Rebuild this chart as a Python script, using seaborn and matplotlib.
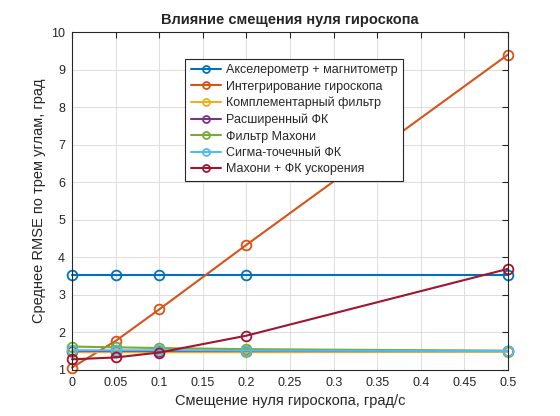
import pandas as pd
import matplotlib.pyplot as plt
import seaborn as sns

bias = [0, 0.05, 0.1, 0.2, 0.5]

names = [
    'Акселерометр + магнитометр',
    'Интегрирование гироскопа',
    'Комплементарный фильтр',
    'Расширенный ФК',
    'Фильтр Махони',
    'Сигма-точечный ФК',
    'Махони + ФК ускорения',
]

accel_mag = [3.53, 3.53, 3.53, 3.53, 3.53]
gyro_int = [1.06, 1.77, 2.61, 4.33, 9.40]
complementary = [1.47, 1.47, 1.47, 1.47, 1.48]
ekf = [1.50, 1.50, 1.50, 1.50, 1.50]
mahony = [1.62, 1.60, 1.58, 1.55, 1.51]
ukf = [1.52, 1.52, 1.52, 1.51, 1.50]
mahony_kf = [1.28, 1.33, 1.46, 1.91, 3.69]

series = [accel_mag, gyro_int, complementary, ekf, mahony, ukf, mahony_kf]

colors = ['#0072BD', '#D95319', '#EDB120', '#7E2F8E', '#77AC30', '#4DBEEE', '#A2142F']

sns.set_style('white')
plt.rcParams['font.family'] = ['Liberation Sans', 'DejaVu Sans']

fig = plt.figure(figsize=(5.6, 4.16), dpi=100)
ax = fig.add_axes([0.1286, 0.111, 0.7786, 0.812])

for name, vals, c in zip(names, series, colors):
    df = pd.DataFrame({'x': bias, 'y': vals})
    sns.lineplot(data=df, x='x', y='y', ax=ax, color=c, linewidth=1.5,
                 marker='o', markersize=7, markerfacecolor='none',
                 markeredgecolor=c, markeredgewidth=1.3, label=name,
                 clip_on=False)

ax.set_xlim(0, 0.5)
ax.set_ylim(1, 10)
ax.set_xticks([0, 0.05, 0.1, 0.15, 0.2, 0.25, 0.3, 0.35, 0.4, 0.45, 0.5])
ax.set_xticklabels(['0', '0.05', '0.1', '0.15', '0.2', '0.25', '0.3', '0.35', '0.4', '0.45', '0.5'])
ax.set_yticks(range(1, 11))
ax.grid(True, color='#dddddd', linewidth=0.7)
ax.tick_params(direction='in', length=4, labelsize=9, colors='#262626',
               top=True, right=True, pad=5)
for sp in ax.spines.values():
    sp.set_color('#262626')
    sp.set_linewidth(0.8)

ax.set_xlabel('Смещение нуля гироскопа, град/с', fontsize=10.5, color='#262626')
ax.set_ylabel('Среднее RMSE по трем углам, град', fontsize=10.5, color='#262626')
ax.set_title('Влияние смещения нуля гироскопа', fontsize=10.5, fontweight='bold')

leg = ax.legend(loc='upper left', bbox_to_anchor=(0.245, 0.94), fancybox=False,
                framealpha=1, edgecolor='#262626', fontsize=9,
                handlelength=2.4, handletextpad=0.4, borderpad=0.45,
                labelspacing=0.35)
leg.get_frame().set_linewidth(0.8)
for h in leg.legend_handles:
    h.set_markersize(5)

fig.savefig('out.png', dpi=100)
